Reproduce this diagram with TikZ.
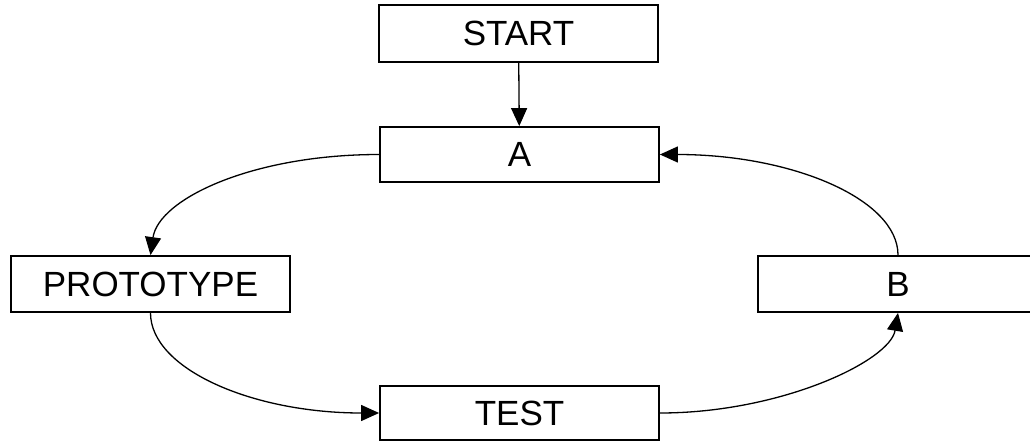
\documentclass[tikz,border=0pt]{standalone}
\usepackage{fontspec}
\setmainfont{Liberation Sans}
\usetikzlibrary{arrows.meta}
\begin{document}
\begin{tikzpicture}[x=1pt,y=-1pt,
  box/.style={draw, line width=1.8pt, rectangle, inner sep=0pt, minimum width=279pt, minimum height=56pt, font=\fontsize{35}{42}\selectfont},
  conn/.style={line width=1.3pt, -{Triangle[length=18pt,width=16pt]}}]
\clip (0,0) rectangle (1030,441);
\useasboundingbox (0,0) rectangle (1030,441);
\node[box, minimum height=57pt] (start) at (518.5,33.5) {START};
\node[box, minimum height=55pt] (a) at (519.5,154.5) {A};
\node[box] (proto) at (150.5,284) {PROTOTYPE};
\node[box, minimum width=280pt] (b) at (898,284) {B};
\node[box, minimum height=54pt] (test) at (519.5,413) {TEST};
\draw[conn] (start) -- (a);
\draw[conn] (a.west) .. controls +(-127,0) and +(8,-56) .. (proto.north);
\draw[conn] (proto.south) .. controls +(0,56) and +(-127,0) .. (test.west);
\draw[conn] (test.east) .. controls +(121,0) and +(-8,48) .. (b.south);
\draw[conn] (b.north) .. controls +(0,-56) and +(132,0) .. (a.east);
\end{tikzpicture}
\end{document}
